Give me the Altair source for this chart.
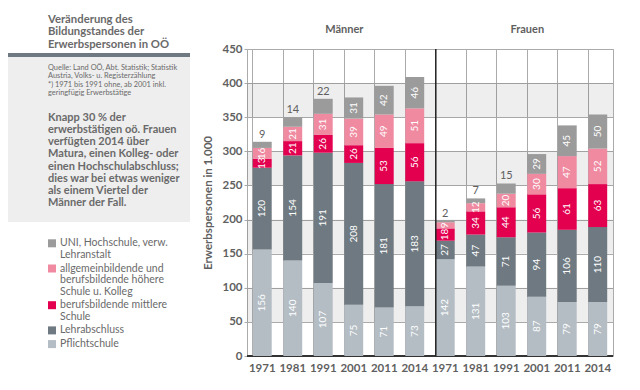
import altair as alt
import pandas as pd

# ---------------- data ----------------
years = [1971, 1981, 1991, 2001, 2011, 2014]
cats = [
    "Pflichtschule",
    "Lehrabschluss",
    "berufsbildende mittlere Schule",
    "allgemeinbildende und berufsbildende höhere Schule u. Kolleg",
    "UNI, Hochschule, verw. Lehranstalt",
]
colors = ["#b4bdc4", "#6e7981", "#e3004f", "#ef8aa1", "#9b9b9b"]

men_pflicht = [156, 140, 107, 75, 71, 73]
men_lehr = [120, 154, 191, 208, 181, 183]
men_bms = [13, 21, 26, 26, 53, 56]
men_hoehere = [16, 21, 31, 39, 49, 51]
men_uni = [9, 14, 22, 31, 42, 46]

women_pflicht = [142, 131, 103, 87, 79, 79]
women_lehr = [27, 47, 71, 94, 106, 110]
women_bms = [18, 34, 44, 56, 61, 63]
women_hoehere = [9, 12, 20, 30, 47, 52]
women_uni = [2, 7, 15, 29, 45, 50]

group_titles = ["Männer", "Frauen"]
y_title = "Erwerbspersonen in 1.000"
y_ticks = [0, 50, 100, 150, 200, 250, 300, 350, 400, 450]

title_lines = ["Veränderung des", "Bildungstandes der", "Erwerbspersonen in OÖ"]
source_lines = [
    "Quelle: Land OÖ, Abt. Statistik; Statistik",
    "Austria, Volks- u. Registerzählung",
    "*) 1971 bis 1991 ohne, ab 2001 inkl.",
    "geringfügig Erwerbstätige",
]
note_lines = [
    "Knapp 30 % der",
    "erwerbstätigen oö. Frauen",
    "verfügten 2014 über",
    "Matura, einen Kolleg- oder",
    "einen Hochschulabschluss;",
    "dies war bei etwas weniger",
    "als einem Viertel der",
    "Männer der Fall.",
]
legend_items = [
    (4, ["UNI, Hochschule, verw.", "Lehranstalt"]),
    (3, ["allgemeinbildende und", "berufsbildende höhere", "Schule u. Kolleg"]),
    (2, ["berufsbildende mittlere", "Schule"]),
    (1, ["Lehrabschluss"]),
    (0, ["Pflichtschule"]),
]

# ---------------- table ----------------
men = [men_pflicht, men_lehr, men_bms, men_hoehere, men_uni]
women = [women_pflicht, women_lehr, women_bms, women_hoehere, women_uni]
rows = []
for g, series in (("M", men), ("F", women)):
    for ci, cat in enumerate(cats):
        for yi, yr in enumerate(years):
            rows.append(dict(key=f"{g}{yr}", year=yr, cat=cat, order=ci,
                             value=series[ci][yi]))
df = pd.DataFrame(rows)
keys = [f"{g}{y}" for g in "MF" for y in years]

FONT = "Lato"
TXT = "#5f5f5f"
PANEL = "#6a6a6a"

xscale = alt.Scale(domain=keys, paddingInner=0.38, paddingOuter=0.19)
yscale = alt.Scale(domain=[0, 450], nice=False, zero=True)
cscale = alt.Scale(domain=cats, range=colors)

xaxis = alt.Axis(labelExpr="substring(datum.label, 1)", bandPosition=0,
                 grid=True, gridColor="#ababab", ticks=False, domain=False,
                 labelAngle=0, labelPadding=6, labelFontSize=11.5,
                 labelFont=FONT, labelFontWeight="bold", labelColor=TXT)
yaxis = alt.Axis(values=y_ticks, grid=True, gridColor="#ababab", labelOverlap=False,
                 domain=False, tickSize=3, tickColor="#ababab", labelPadding=2,
                 labelFontSize=11.5, labelFont=FONT, labelFontWeight="bold",
                 labelColor=TXT, titleFont=FONT, titleFontSize=11.5,
                 titleFontWeight="bold", titleColor=TXT, titlePadding=8)


def Y(field):
    return alt.Y(field, scale=yscale, title=y_title, axis=yaxis)


def X(**kw):
    return alt.X("key:N", scale=xscale, title=None, axis=xaxis, **kw)


base = alt.Chart(df).transform_stack(
    stack="value", groupby=["key"], sort=[alt.SortField("order", order="ascending")],
    as_=["y0", "y1"]
).transform_calculate(mid="(datum.y0 + datum.y1) / 2")

bands_df = pd.DataFrame({"lo": [50, 150, 250, 350], "hi": [100, 200, 300, 400]})
bands = alt.Chart(bands_df).mark_rect(color="black", opacity=0.067).encode(
    y=Y("lo:Q"), y2="hi:Q")

baseline = alt.Chart(pd.DataFrame({"v": [0]})).mark_rule(
    color="#333333", strokeWidth=2).encode(y=Y("v:Q"))

bars = base.mark_bar().encode(
    x=X(),
    y=Y("y0:Q"),
    y2="y1:Q",
    color=alt.Color("cat:N", scale=cscale, legend=None),
)

sep = alt.Chart(pd.DataFrame({"key": ["F1971"]})).mark_rule(
    color="#222222", strokeWidth=1.5).encode(x=X(bandPosition=0))

inner = base.transform_filter(
    "!(datum.order == 4 && datum.year <= 1991)").mark_text(
    angle=270, color="white", fontSize=10, font=FONT, baseline="middle", align="center"
).encode(x=X(), y=Y("mid:Q"), text="value:Q")

top = base.transform_filter(
    "datum.order == 4 && datum.year <= 1991").mark_text(
    color=TXT, fontSize=11, font=FONT, baseline="bottom", dy=-2
).encode(x=X(), y=Y("y1:Q"), text="value:Q")

heads = alt.Chart(pd.DataFrame({"key": ["M2001", "F2001"], "t": group_titles})).mark_text(
    font=FONT, fontSize=11, fontWeight="bold", color=TXT, baseline="middle"
).encode(x=X(bandPosition=0), y=alt.value(-19), text="t:N")

one = pd.DataFrame({"a": [0]})
layers = [bands, baseline, bars, sep, inner, top, heads]

# left panel
layers.append(alt.Chart(one).mark_rect(color="#eeeeee").encode(
    x=alt.value(-239), x2=alt.value(-57), y=alt.value(8), y2=alt.value(173)))
layers.append(alt.Chart(one).mark_rect(color="#6e7981").encode(
    x=alt.value(-239), x2=alt.value(-57), y=alt.value(4), y2=alt.value(8)))

PX = -199
for i, t in enumerate(title_lines):
    layers.append(alt.Chart(one).mark_text(
        align="left", baseline="middle", font=FONT, fontSize=11.3, fontWeight="bold",
        color=PANEL).encode(x=alt.value(PX), y=alt.value(-29 + 12.3 * i),
                            text=alt.value(t)))
for i, t in enumerate(source_lines):
    layers.append(alt.Chart(one).mark_text(
        align="left", baseline="middle", font=FONT, fontSize=7.4,
        color=PANEL).encode(x=alt.value(PX), y=alt.value(19 + 8.3 * i),
                            text=alt.value(t)))
for i, t in enumerate(note_lines):
    layers.append(alt.Chart(one).mark_text(
        align="left", baseline="middle", font=FONT, fontSize=11, fontWeight="bold",
        color=PANEL).encode(x=alt.value(PX), y=alt.value(68.7 + 12.2 * i),
                            text=alt.value(t)))

ly = 194.3
for ci, lines in legend_items:
    layers.append(alt.Chart(one).mark_square(size=64, opacity=1).encode(
        x=alt.value(-195), y=alt.value(ly), color=alt.value(colors[ci])))
    for j, t in enumerate(lines):
        layers.append(alt.Chart(one).mark_text(
            align="left", baseline="middle", font=FONT, fontSize=10.5,
            color=PANEL).encode(x=alt.value(-187), y=alt.value(ly + 11.5 * j),
                                text=alt.value(t)))
    ly += 11.5 * (len(lines) - 1) + 13.7

chart = alt.layer(*layers).properties(
    width=366, height=307,
    autosize=alt.AutoSizeParams(type="none"),
    padding={"left": 239, "top": 41, "right": 19, "bottom": 30},
).configure_view(stroke="#ababab")

chart.save("out.html", embed_options={"renderer": "svg", "actions": False})
